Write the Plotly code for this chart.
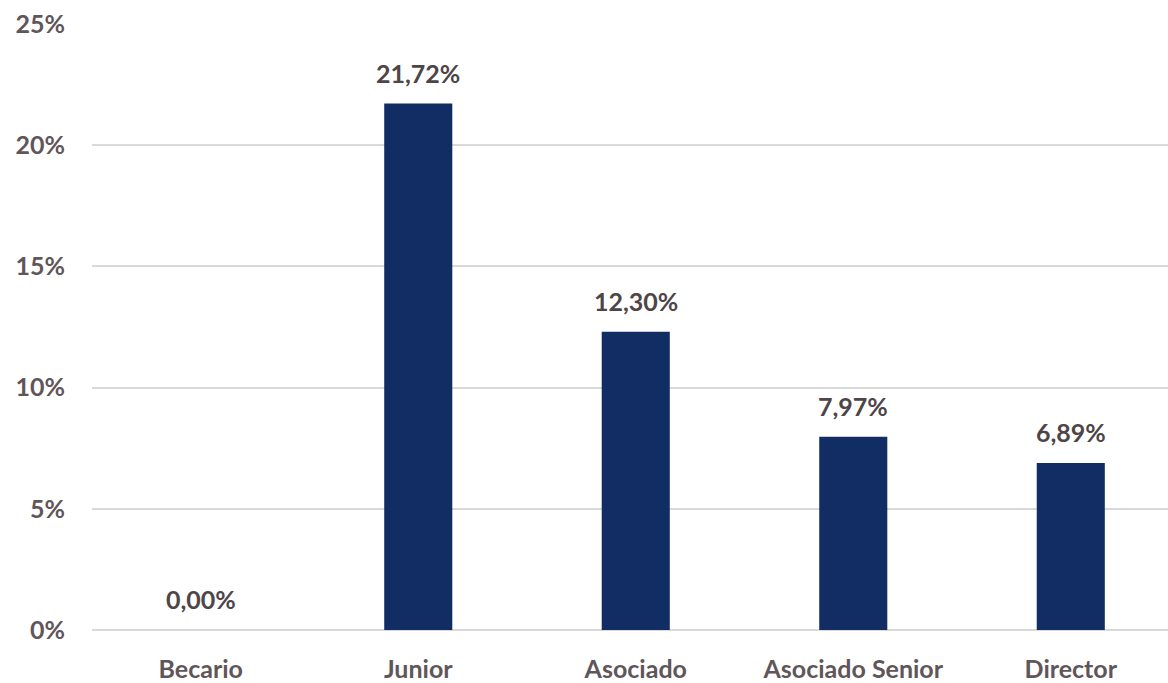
import plotly.graph_objects as go

categories = ["Becario", "Junior", "Asociado", "Asociado Senior", "Director"]
values = [0.00, 21.72, 12.30, 7.97, 6.89]
y_ticks = [0, 5, 10, 15, 20, 25]

labels = [f"{v:.2f}%".replace(".", ",") for v in values]
xs = list(range(len(categories)))

fig = go.Figure(go.Bar(
    x=xs,
    y=values,
    marker=dict(color="#112d63", line=dict(width=0)),
    hoverinfo="skip",
))

for x, v, t in zip(xs, values, labels):
    fig.add_annotation(
        x=x, y=v, text=t, showarrow=False,
        xanchor="center", yanchor="bottom", yshift=14,
        font=dict(family="Lato", size=25, color="#4d4547", weight="bold"),
    )

fig.update_layout(
    width=1168, height=683,
    margin=dict(l=92, r=0, t=24, b=51),
    paper_bgcolor="white", plot_bgcolor="white",
    bargap=0.687,
    showlegend=False,
    font=dict(family="Lato"),
)
fig.update_xaxes(
    tickvals=xs,
    ticktext=categories,
    range=[-0.5, 4.447],
    tickfont=dict(family="Lato", size=25, color="#5f5659", weight="bold"),
    showgrid=False, showline=False, zeroline=False,
    ticks="", ticklabelstandoff=22,
)
fig.update_yaxes(
    range=[0, 25],
    tickvals=y_ticks,
    ticktext=[f"{t}%" for t in y_ticks],
    tickfont=dict(family="Lato", size=25, color="#5f5659", weight="bold"),
    showgrid=True, gridcolor="#d9d9d9", gridwidth=2,
    zeroline=True, zerolinecolor="#d9d9d9", zerolinewidth=2,
    showline=False, ticks="", ticklabelstandoff=26,
)

fig.write_html(
    "out.html",
    config={"displayModeBar": False},
    post_script="document.body.style.margin='0';document.body.style.overflow='hidden';",
)
